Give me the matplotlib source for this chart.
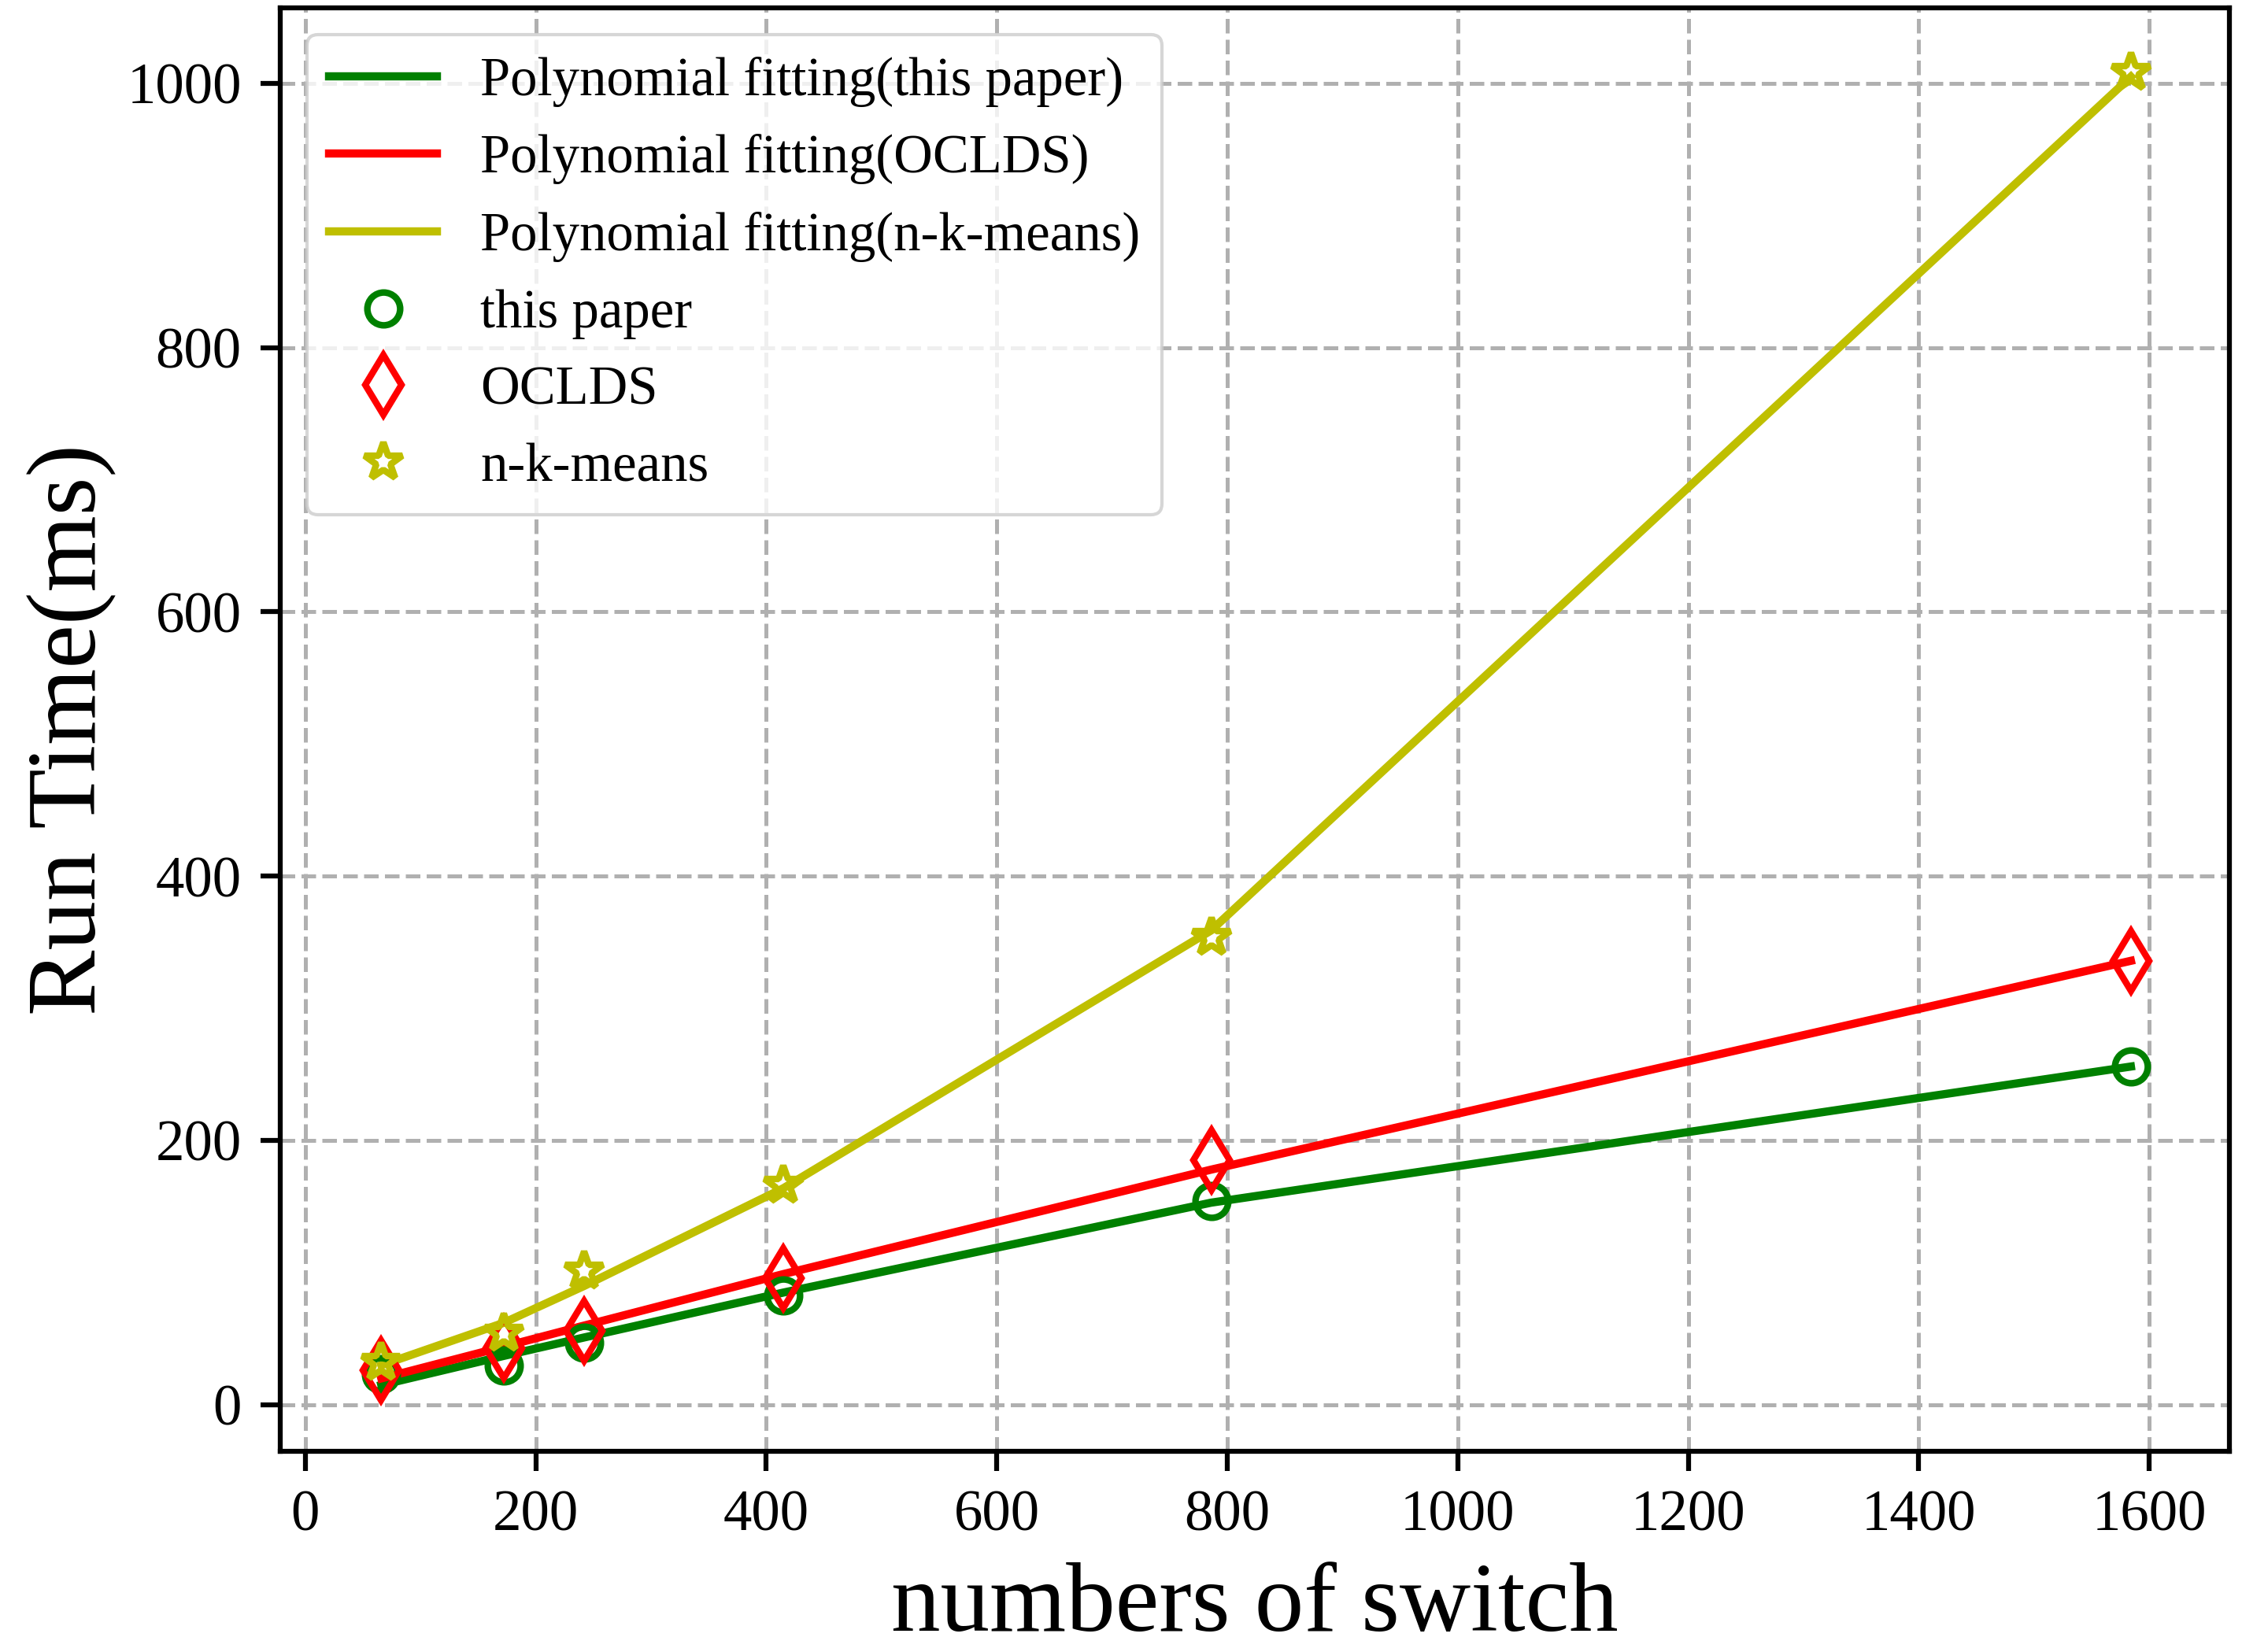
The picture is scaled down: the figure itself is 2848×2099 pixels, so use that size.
import matplotlib
matplotlib.use('Agg')
import matplotlib.pyplot as plt

plt.rcParams['font.family'] = ['Liberation Serif', 'DejaVu Serif']

# number of switches
switches = [66, 172, 242, 415, 786, 1584]

# measured run times (ms)
time_this = [23, 30, 47, 83, 154, 256]
time_oclds = [26, 43, 56, 96, 185, 336]
time_nkm = [32, 54, 101, 166, 354, 1008]

# fitted curves evaluated at the same switch counts
fit_this = [15, 37, 51, 85, 153, 256]
fit_oclds = [20, 44, 60, 99, 178, 336]
fit_nkm = [30, 62, 90, 164, 359, 1005]

fig = plt.figure(figsize=(2848 / 300, 2099 / 300), dpi=300)
ax = fig.add_axes([0.125, 0.1216, 0.8694, 0.8736])

lw = 2.5
ax.plot(switches, fit_this, color='g', lw=lw, label='Polynomial fitting(this paper)')
ax.plot(switches, fit_oclds, color='r', lw=lw, label='Polynomial fitting(OCLDS)')
ax.plot(switches, fit_nkm, color='y', lw=lw, label='Polynomial fitting(n-k-means)')

ax.plot(switches, time_this, 'o', color='g', mfc='none', ms=10, mew=2, ls='none', label='this paper')
ax.plot(switches, time_oclds, 'd', color='r', mfc='none', ms=13, mew=2, ls='none', label='OCLDS')
ax.plot(switches, time_nkm, '*', color='y', mfc='none', ms=12, mew=2, ls='none', label='n-k-means')

ax.set_xlim(-21.7, 1669.5)
ax.set_ylim(-35, 1057)
ax.set_xticks(range(0, 1601, 200))
ax.set_yticks(range(0, 1001, 200))

ax.grid(True, ls='--', color='#b0b0b0', lw=1.2)
ax.set_axisbelow(True)
for s in ax.spines.values():
    s.set_linewidth(1.5)
ax.tick_params(direction='out', length=6, width=1.5, pad=5.8, labelsize=17.5)

ax.set_xlabel('numbers of switch', fontsize=30, labelpad=6)
ax.set_ylabel('Run Time(ms)', fontsize=30, labelpad=3)

ax.legend(loc='upper left', fontsize=16.5, labelspacing=0.5, framealpha=0.8)

fig.savefig('out.png', dpi=300)
